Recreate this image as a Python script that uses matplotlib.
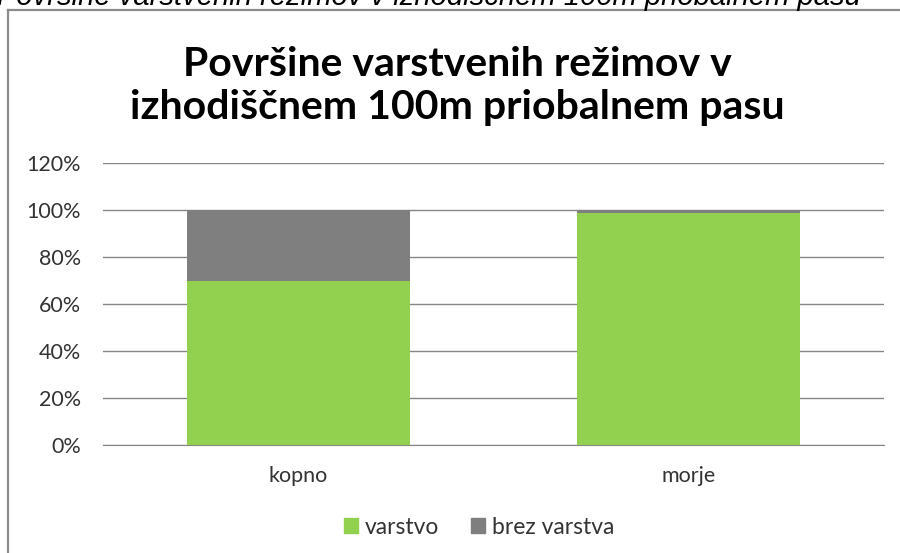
import numpy as np
import matplotlib.pyplot as plt
from matplotlib.patches import Patch
from matplotlib.ticker import PercentFormatter

categories = ['kopno', 'morje']
varstvo = [70.0, 98.7]
brez_varstva = [30.0, 1.3]
series_names = ['varstvo', 'brez varstva']
yticks = [0, 20, 40, 60, 80, 100, 120]

green = '#92D050'
grey = '#7F7F7F'
grid_col = '#868686'
text_col = '#333333'

plt.rcParams['font.family'] = ['Lato', 'DejaVu Sans']

fig = plt.figure(figsize=(9, 5.53), dpi=100)
W, H = 900, 553

# chart frame (only its top and left edges are in view)
fig.add_artist(plt.Line2D([7.5 / W, 7.5 / W], [0, 1 - 9.5 / H], transform=fig.transFigure,
                          color='#8c8c8c', lw=1.6))
fig.add_artist(plt.Line2D([7.5 / W, 1], [1 - 9.5 / H, 1 - 9.5 / H], transform=fig.transFigure,
                          color='#8c8c8c', lw=1.6))

# caption above the chart, partly cut off at the top edge
fig.text(-3 / W, 1 - 5 / H, 'Površine varstvenih režimov v izhodiščnem 100m priobalnem pasu',
         fontsize=21, style='italic', family='Liberation Sans', ha='left', va='baseline')

ax = fig.add_axes([103 / W, (H - 445) / H, 781 / W, 282 / H])
x = np.arange(len(categories))
ax.bar(x, varstvo, width=0.57, color=green, label=series_names[0], zorder=3)
ax.bar(x, brez_varstva, width=0.57, bottom=varstvo, color=grey, label=series_names[1], zorder=3)

ax.set_xlim(-0.5, 1.5)
ax.set_ylim(0, 120)
ax.set_yticks(yticks)
ax.yaxis.set_major_formatter(PercentFormatter(decimals=0))
ax.set_xticks(x)
ax.set_xticklabels(categories)
ax.grid(axis='y', color=grid_col, lw=1, zorder=0)
ax.tick_params(axis='both', length=0, labelsize=15.5, colors=text_col)
ax.tick_params(axis='y', pad=16)
ax.tick_params(axis='x', pad=15)
for s in ['left', 'right', 'top']:
    ax.spines[s].set_visible(False)
ax.spines['bottom'].set_color(grid_col)

fig.text(457 / W, 1 - 76 / H, 'Površine varstvenih režimov v', fontsize=29.5, fontweight='bold',
         ha='center', va='baseline')
fig.text(457 / W, 1 - 119 / H, 'izhodiščnem 100m priobalnem pasu', fontsize=29.5, fontweight='bold',
         ha='center', va='baseline')

handles = [Patch(color=green), Patch(color=grey)]
leg = fig.legend(handles, series_names, loc='center', bbox_to_anchor=(479 / W, 1 - 527 / H),
                 ncol=2, frameon=False, fontsize=16.5, handlelength=0.6, handleheight=0.6,
                 handletextpad=0.3, columnspacing=1.4)
for t in leg.get_texts():
    t.set_color(text_col)

fig.savefig('out.png', dpi=100)
